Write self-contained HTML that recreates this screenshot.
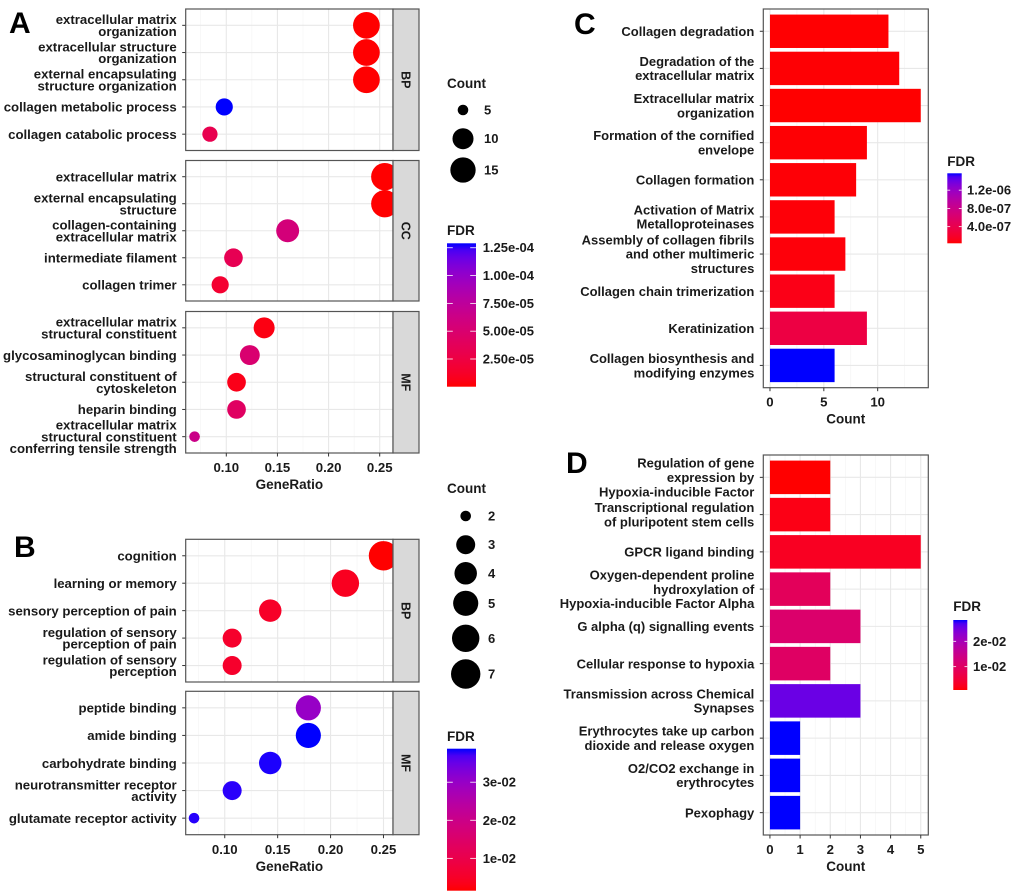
<!DOCTYPE html>
<html><head><meta charset="utf-8">
<style>
html,body{margin:0;padding:0;background:#fff;}
svg{display:block;font-family:"Liberation Sans",Arial,sans-serif;font-weight:bold;}
</style></head>
<body>
<svg id="fig" width="1020" height="895" viewBox="0 0 1020 895" xmlns="http://www.w3.org/2000/svg">
<defs id="defs"></defs>
<text x="9" y="33" font-size="30" fill="#000">A</text>
<text x="14" y="557" font-size="30" fill="#000">B</text>
<text x="574" y="34" font-size="30" fill="#000">C</text>
<text x="566" y="473" font-size="30" fill="#000">D</text>
</svg>
<script>
// ---------- DATA ----------
// Panel A (GO dot plot)
const A_groups = ["BP","CC","MF"];
const A_terms = [
 ["extracellular matrix\norganization","extracellular structure\norganization","external encapsulating\nstructure organization","collagen metabolic process","collagen catabolic process"],
 ["extracellular matrix","external encapsulating\nstructure","collagen-containing\nextracellular matrix","intermediate filament","collagen trimer"],
 ["extracellular matrix\nstructural constituent","glycosaminoglycan binding","structural constituent of\ncytoskeleton","heparin binding","extracellular matrix\nstructural constituent\nconferring tensile strength"]
];
const A_ratio = [[0.237,0.237,0.237,0.098,0.084],[0.255,0.255,0.160,0.107,0.094],[0.137,0.123,0.110,0.110,0.069]];
const A_count = [[17,17,17,7,6],[18,18,12,8,7],[10,9,8,8,5]];
const A_fdr = [[2e-7,3e-7,4e-7,1.29e-4,3.2e-5],[1e-7,2e-7,5.6e-5,3.4e-5,1.6e-5],[4e-6,5e-5,6e-6,4.2e-5,6.4e-5]];
const A_xticks = [0.10,0.15,0.20,0.25];
const A_xtickLabels = ["0.10","0.15","0.20","0.25"];
const A_sizeBreaks = [5,10,15];
const A_fdrTicks = [2.5e-5,5e-5,7.5e-5,1e-4,1.25e-4];
const A_fdrTickLabels = ["2.50e-05","5.00e-05","7.50e-05","1.00e-04","1.25e-04"];

// Panel B
const B_groups = ["BP","MF"];
const B_terms = [
 ["cognition","learning or memory","sensory perception of pain","regulation of sensory\nperception of pain","regulation of sensory\nperception"],
 ["peptide binding","amide binding","carbohydrate binding","neurotransmitter receptor\nactivity","glutamate receptor activity"]
];
const B_ratio = [[0.25,0.214,0.143,0.107,0.107],[0.179,0.179,0.143,0.107,0.071]];
const B_count = [[7,6,4,3,3],[5,5,4,3,2]];
const B_fdr = [[0.0015,0.004,0.005,0.0055,0.0055],[0.030,0.0388,0.0385,0.0382,0.0383]];
const B_xticks = [0.10,0.15,0.20,0.25];
const B_xtickLabels = ["0.10","0.15","0.20","0.25"];
const B_sizeBreaks = [2,3,4,5,6,7];
const B_fdrTicks = [0.01,0.02,0.03];
const B_fdrTickLabels = ["1e-02","2e-02","3e-02"];

// Panel C (Reactome bars)
const C_terms = ["Collagen degradation","Degradation of the\nextracellular matrix","Extracellular matrix\norganization","Formation of the cornified\nenvelope","Collagen formation","Activation of Matrix\nMetalloproteinases","Assembly of collagen fibrils\nand other multimeric\nstructures","Collagen chain trimerization","Keratinization","Collagen biosynthesis and\nmodifying enzymes"];
const C_count = [11,12,14,9,8,6,7,6,9,6];
const C_fdr = [4e-8,4.5e-8,3.5e-8,4.5e-8,5e-8,5.5e-8,6e-8,1e-7,3.4e-7,1.57e-6];
const C_xticks = [0,5,10];
const C_fdrTicks = [4e-7,8e-7,1.2e-6];
const C_fdrTickLabels = ["4.0e-07","8.0e-07","1.2e-06"];

// Panel D
const D_terms = ["Regulation of gene\nexpression by\nHypoxia-inducible Factor","Transcriptional regulation\nof pluripotent stem cells","GPCR ligand binding","Oxygen-dependent proline\nhydroxylation of\nHypoxia-inducible Factor Alpha","G alpha (q) signalling events","Cellular response to hypoxia","Transmission across Chemical\nSynapses","Erythrocytes take up carbon\ndioxide and release oxygen","O2/CO2 exchange in\nerythrocytes","Pexophagy"];
const D_count = [2,2,5,2,3,2,3,1,1,1];
const D_fdr = [0.0008,0.0018,0.0028,0.009,0.011,0.010,0.0255,0.0284,0.0284,0.0284];
const D_xticks = [0,1,2,3,4,5];
const D_fdrTicks = [0.01,0.02];
const D_fdrTickLabels = ["1e-02","2e-02"];

// ---------- HELPERS ----------
const NS='http://www.w3.org/2000/svg';
const svg=document.getElementById('fig');
const defs=document.getElementById('defs');
function mk(tag,attrs,parent){const e=document.createElementNS(NS,tag);for(const k in attrs)e.setAttribute(k,attrs[k]);(parent||svg).appendChild(e);return e;}
function lin(c){c/=255;return c<=0.04045?c/12.92:Math.pow((c+0.055)/1.055,2.4);}
function gam(c){c=c<=0.0031308?12.92*c:1.055*Math.pow(c,1/2.4)-0.055;return Math.max(0,Math.min(255,Math.round(c*255)));}
function toLab(r,g,b){r=lin(r);g=lin(g);b=lin(b);
 let X=(0.4124*r+0.3576*g+0.1805*b)/0.95047,Y=0.2126*r+0.7152*g+0.0722*b,Z=(0.0193*r+0.1192*g+0.9505*b)/1.08883;
 const f=t=>t>0.008856?Math.cbrt(t):7.787*t+16/116;const fx=f(X),fy=f(Y),fz=f(Z);
 return [116*fy-16,500*(fx-fy),200*(fy-fz)];}
function fromLab(L,a,b){const fy=(L+16)/116,fx=fy+a/500,fz=fy-b/200;
 const fi=t=>t*t*t>0.008856?t*t*t:(t-16/116)/7.787;
 const X=fi(fx)*0.95047,Y=fi(fy),Z=fi(fz)*1.08883;
 const r=3.2406*X-1.5372*Y-0.4986*Z,g=-0.9689*X+1.8758*Y+0.0415*Z,bb=0.0557*X-0.2040*Y+1.0570*Z;
 return 'rgb('+gam(r)+','+gam(g)+','+gam(bb)+')';}
const LR=toLab(255,0,0),LB=toLab(0,0,255);
function cmap(t){t=Math.max(0,Math.min(1,t));return fromLab(LR[0]+(LB[0]-LR[0])*t,LR[1]+(LB[1]-LR[1])*t,LR[2]+(LB[2]-LR[2])*t);}
function flat(a){return [].concat(...a);}
function label(txt,x,y,fs,lh,anchor,name){
 const lines=txt.split('\n');const t=mk('text',{x:x,y:y,'font-size':fs,'text-anchor':anchor||'end',fill:'#1a1a1a'});
 
 
 lines.forEach((ln,i)=>{const s=mk('tspan',{x:x,y:(y-(lines.length-1)*lh/2+i*lh+fs*0.36).toFixed(2)},t);s.textContent=ln;});
 return t;}

let gradId=0;
function colorbar(x,yTop,w,h,ticks,tickLabels,lo,hi,labX,title,titleY,prefix){
 const id='grad'+(gradId++);
 const g=mk('linearGradient',{id:id,x1:0,y1:1,x2:0,y2:0},defs);
 for(let i=0;i<=20;i++){mk('stop',{offset:i/20,'stop-color':cmap(i/20)},g);}
 const tt=mk('text',{x:x,y:titleY,'font-size':13.5,fill:'#1a1a1a'});tt.textContent=title;
 
 
 const r=mk('rect',{x:x,y:yTop,width:w,height:h,fill:'url(#'+id+')'});
 
 
 ticks.forEach((v,i)=>{const y=yTop+h-(v-lo)/(hi-lo)*h;
  mk('line',{x1:x,x2:x+w*0.2,y1:y,y2:y,stroke:'#fff','stroke-width':0.8});
  mk('line',{x1:x+w*0.8,x2:x+w,y1:y,y2:y,stroke:'#fff','stroke-width':0.8});
  const t=mk('text',{x:labX,y:y+4.5,'font-size':13,fill:'#1a1a1a'});t.textContent=tickLabels[i];
  
  });
}

// ---------- DOT PLOT ----------
function dotPanel(cfg){
 const {groups,terms,ratio,count,fdr,xticks,xtickLabels,x0,x1,facets,vmin,vmax,prefix,rmin,rmax,cmin,cmax,tickY,titleY}=cfg;
 const sx=v=>x0+(v-vmin)/(vmax-vmin)*(x1-x0);
 const sr=c=>rmin+(rmax-rmin)*Math.sqrt((c-cmin)/(cmax-cmin));
 const allF=flat(fdr);const flo=Math.min(...allF),fhi=Math.max(...allF);
 groups.forEach((gname,gi)=>{
  const [top,bot]=facets[gi];const step=(bot-top)/(terms[gi].length-1+1.2);
  const bg=mk('rect',{x:x0,y:top,width:x1-x0,height:bot-top,fill:'#fff'});
  
  
  for(let i=0;i<xticks.length;i++){const mv=xticks[i]-(xticks[1]-xticks[0])/2;
   mk('line',{x1:sx(mv),x2:sx(mv),y1:top,y2:bot,stroke:'#f3f3f3','stroke-width':0.6});}
  const lastMinor=xticks[xticks.length-1]+(xticks[1]-xticks[0])/2;
  if(sx(lastMinor)<x1)mk('line',{x1:sx(lastMinor),x2:sx(lastMinor),y1:top,y2:bot,stroke:'#f3f3f3','stroke-width':0.6});
  xticks.forEach(v=>mk('line',{x1:sx(v),x2:sx(v),y1:top,y2:bot,stroke:'#e8e8e8','stroke-width':1.1}));
  terms[gi].forEach((t,i)=>{const y=top+(0.6+i)*step;
   mk('line',{x1:x0,x2:x1,y1:y,y2:y,stroke:'#e8e8e8','stroke-width':1.1});});
  terms[gi].forEach((t,i)=>{const y=top+(0.6+i)*step;
   const c=mk('circle',{cx:sx(ratio[gi][i]),cy:y,r:sr(count[gi][i]),fill:cmap((fdr[gi][i]-flo)/(fhi-flo))});
   
   
   mk('line',{x1:x0-3.5,x2:x0,y1:y,y2:y,stroke:'#333','stroke-width':1});
   label(t,x0-9,y,13.2,11.8,'end',prefix+'-term-label');});
  const bd=mk('rect',{x:x0,y:top,width:x1-x0,height:bot-top,fill:'none',stroke:'#555','stroke-width':1.2});
  
  
  const st=mk('rect',{x:x1,y:top,width:26,height:bot-top,fill:'#d9d9d9',stroke:'#555','stroke-width':1.2});
  
  
  const cy=(top+bot)/2,cx=x1+13;
  const stt=mk('text',{x:cx,y:cy+4.3,'font-size':12.5,'text-anchor':'middle',fill:'#1a1a1a',transform:'rotate(90 '+cx+' '+cy+')'});
  stt.textContent=gname;
  
  
 });
 const lastBot=facets[facets.length-1][1];
 xticks.forEach((v,i)=>{mk('line',{x1:sx(v),x2:sx(v),y1:lastBot,y2:lastBot+3.5,stroke:'#333','stroke-width':1});
  const t=mk('text',{x:sx(v),y:tickY,'font-size':13.2,'text-anchor':'middle',fill:'#1a1a1a'});t.textContent=xtickLabels[i];
  
  });
 const xt=mk('text',{x:(x0+x1)/2,y:titleY,'font-size':13.5,'text-anchor':'middle',fill:'#1a1a1a'});xt.textContent='GeneRatio';
 
 
 return {sr,flo,fhi};
}

const pa=dotPanel({groups:A_groups,terms:A_terms,ratio:A_ratio,count:A_count,fdr:A_fdr,xticks:A_xticks,xtickLabels:A_xtickLabels,
 x0:185.7,x1:393,facets:[[9,150.5],[160.5,301],[311.5,453]],vmin:0.0603,vmax:0.263,prefix:'a',rmin:5.3,rmax:13.7,cmin:5,cmax:18,tickY:472,titleY:489});
const pb=dotPanel({groups:B_groups,terms:B_terms,ratio:B_ratio,count:B_count,fdr:B_fdr,xticks:B_xticks,xtickLabels:B_xtickLabels,
 x0:185.7,x1:393,facets:[[539.3,682],[691.3,834.7]],vmin:0.0631,vmax:0.259,prefix:'b',rmin:5.3,rmax:14.7,cmin:2,cmax:7,tickY:854,titleY:871});

function sizeLegend(breaks,sr,cx,ys,labX,titleY,prefix){
 const t=mk('text',{x:447,y:titleY,'font-size':13.5,fill:'#1a1a1a'});t.textContent='Count';
 
 
 breaks.forEach((b,i)=>{const c=mk('circle',{cx:cx,cy:ys[i],r:sr(b),fill:'#000'});
  
  
  const l=mk('text',{x:labX,y:ys[i]+4.5,'font-size':13,fill:'#1a1a1a'});l.textContent=b;
  
  });
}
sizeLegend(A_sizeBreaks,pa.sr,463,[110,138.7,170],484,88,'a');
sizeLegend(B_sizeBreaks,pb.sr,465.7,[516,544.7,573.3,603.3,638.3,674],488,493,'b');
colorbar(447,243.3,29,143.4,A_fdrTicks,A_fdrTickLabels,pa.flo,pa.fhi,482.7,'FDR',235,'a');
colorbar(447,748.7,29,142,B_fdrTicks,B_fdrTickLabels,pb.flo,pb.fhi,482.7,'FDR',741,'b');

// ---------- BAR PANELS ----------
function barPanel(cfg){
 const {terms,count,fdr,xticks,x0,x1,top,bot,vmin,vmax,prefix,tickY,titleY,minorStep}=cfg;
 const sx=v=>x0+(v-vmin)/(vmax-vmin)*(x1-x0);
 const flo=Math.min(...fdr),fhi=Math.max(...fdr);
 const step=(bot-top)/(terms.length-1+1.2);
 const bg=mk('rect',{x:x0,y:top,width:x1-x0,height:bot-top,fill:'#fff'});
 
 
 for(let v=xticks[0]+minorStep/2;sx(v)<x1;v+=minorStep)mk('line',{x1:sx(v),x2:sx(v),y1:top,y2:bot,stroke:'#f3f3f3','stroke-width':0.6});
 xticks.forEach(v=>mk('line',{x1:sx(v),x2:sx(v),y1:top,y2:bot,stroke:'#e8e8e8','stroke-width':1.1}));
 terms.forEach((t,i)=>{const y=top+(0.6+i)*step;mk('line',{x1:x0,x2:x1,y1:y,y2:y,stroke:'#e8e8e8','stroke-width':1.1});});
 terms.forEach((t,i)=>{const y=top+(0.6+i)*step;const h=step*0.9;
  const r=mk('rect',{x:sx(0),y:y-h/2,width:sx(count[i])-sx(0),height:h,fill:cmap((fdr[i]-flo)/(fhi-flo))});
  
  
  mk('line',{x1:x0-3.5,x2:x0,y1:y,y2:y,stroke:'#333','stroke-width':1});
  label(t,x0-9,y,13,14.3,'end',prefix+'-term-label');});
 const bd=mk('rect',{x:x0,y:top,width:x1-x0,height:bot-top,fill:'none',stroke:'#555','stroke-width':1.2});
 
 
 xticks.forEach(v=>{mk('line',{x1:sx(v),x2:sx(v),y1:bot,y2:bot+3.5,stroke:'#333','stroke-width':1});
  const t=mk('text',{x:sx(v),y:tickY,'font-size':13.2,'text-anchor':'middle',fill:'#1a1a1a'});t.textContent=v;
  
  });
 const xt=mk('text',{x:(x0+x1)/2,y:titleY,'font-size':13.5,'text-anchor':'middle',fill:'#1a1a1a'});xt.textContent='Count';
 
 
 return {flo,fhi};
}
const pc=barPanel({terms:C_terms,count:C_count,fdr:C_fdr,xticks:C_xticks,x0:763.3,x1:928.3,top:9,bot:387.7,vmin:-0.62,vmax:14.7,prefix:'c',tickY:406.5,titleY:423.5,minorStep:5});
const pd=barPanel({terms:D_terms,count:D_count,fdr:D_fdr,xticks:D_xticks,x0:763.3,x1:928.3,top:455,bot:835,vmin:-0.22,vmax:5.25,prefix:'d',tickY:854,titleY:871,minorStep:1});
colorbar(947.3,173.3,14.4,70,C_fdrTicks,C_fdrTickLabels,pc.flo,pc.fhi,967,'FDR',166,'c');
colorbar(953.3,620,14,70,D_fdrTicks,D_fdrTickLabels,pd.flo,pd.fhi,973,'FDR',611,'d');
</script>
</body></html>
